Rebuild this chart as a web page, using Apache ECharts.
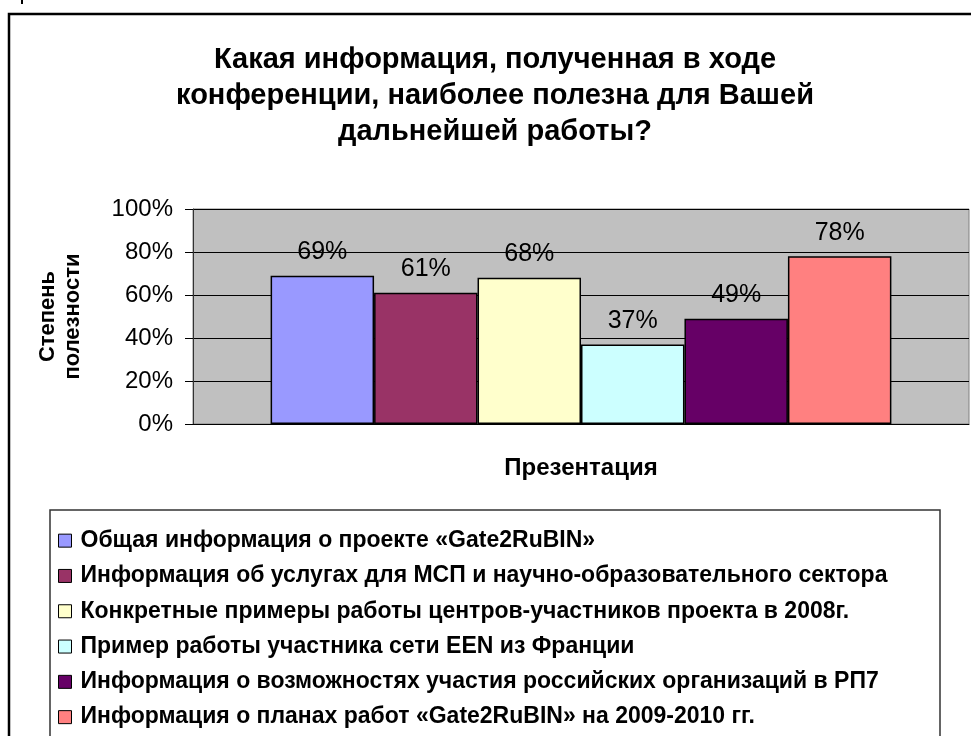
<!DOCTYPE html>
<html>
<head>
<meta charset="utf-8">
<script src="https://cdn.jsdelivr.net/npm/echarts@6/dist/echarts.min.js"></script>
<style>
  html, body { margin: 0; padding: 0; background: #fff; }
  #chart { width: 971px; height: 736px; }
</style>
</head>
<body>
<div id="chart"></div>
<script>
// категория и значения (в процентах)
var categories = ['Презентация'];
var seriesNames = [
  'Общая информация о проекте «Gate2RuBIN»',
  'Информация об услугах для МСП и научно-образовательного сектора',
  'Конкретные примеры работы центров-участников проекта в 2008г.',
  'Пример работы участника сети EEN из Франции',
  'Информация о возможностях участия российских организаций в РП7',
  'Информация о планах работ «Gate2RuBIN» на 2009-2010 гг.'
];
var seriesValues = [69, 61, 68, 37, 49, 78];
var seriesColors = ['#9999FF', '#993366', '#FFFFCC', '#CCFFFF', '#660066', '#FF8080'];

var font = 'Arial, "Liberation Sans", sans-serif';

var series = [];
for (var i = 0; i < seriesNames.length; i++) {
  series.push({
    name: seriesNames[i],
    type: 'bar',
    barGap: '0%',
    barCategoryGap: '20%',
    data: [seriesValues[i]],
    itemStyle: {
      color: seriesColors[i],
      borderColor: '#000',
      borderWidth: 1.5
    },
    label: {
      show: true,
      position: 'top',
      distance: 11,
      formatter: '{c}%',
      color: '#000',
      fontSize: 25,
      fontFamily: font
    }
  });
}

var chartDom = document.getElementById('chart');
var myChart = echarts.init(chartDom);

var option = {
  animation: false,
  backgroundColor: '#fff',
  title: {
    text: 'Какая информация, полученная в ходе\nконференции, наиболее полезна для Вашей\nдальнейшей работы?',
    left: 495,
    top: 42,
    padding: 0,
    textAlign: 'center',
    textStyle: {
      fontSize: 29,
      fontWeight: 'bold',
      fontFamily: font,
      lineHeight: 36,
      color: '#000'
    }
  },
  graphic: [
    // рамка области диаграммы
    { type: 'rect', shape: { x: 9, y: 14, width: 1000, height: 760 },
      style: { fill: 'none', stroke: '#000', lineWidth: 2.5 }, z: 100 },
    { type: 'line', shape: { x1: 22, y1: 0, x2: 22, y2: 4 },
      style: { stroke: '#000', lineWidth: 2 } },
    // рамка легенды
    { type: 'rect', shape: { x: 50, y: 510, width: 890, height: 260 },
      style: { fill: 'none', stroke: '#333', lineWidth: 1.5 }, z: 100 }
  ],
  legend: {
    orient: 'vertical',
    left: 58,
    top: 529,
    padding: 0,
    itemWidth: 13,
    itemHeight: 13,
    itemGap: 12,
    icon: 'rect',
    selectedMode: false,
    itemStyle: { borderColor: '#000', borderWidth: 1 },
    textStyle: {
      fontSize: 23,
      fontWeight: 'bold',
      fontFamily: font,
      color: '#000',
      lineHeight: 23.3,
      padding: [0, 0, 0, 4]
    },
    data: seriesNames
  },
  grid: {
    left: 193,
    top: 209,
    width: 776,
    height: 215,
    show: true,
    backgroundColor: '#C0C0C0',
    borderColor: '#808080',
    borderWidth: 1
  },
  xAxis: {
    type: 'category',
    data: categories,
    name: 'Презентация',
    nameLocation: 'middle',
    nameGap: 32,
    nameTextStyle: { fontSize: 24, fontWeight: 'bold', fontFamily: font, color: '#000' },
    axisLine: { show: true, lineStyle: { color: '#000', width: 1 } },
    axisTick: { show: false },
    axisLabel: { show: false }
  },
  yAxis: {
    type: 'value',
    min: 0,
    max: 100,
    interval: 20,
    name: 'Степень\nполезности',
    nameLocation: 'middle',
    nameRotate: 90,
    nameGap: 108,
    nameTextStyle: { fontSize: 22, fontWeight: 'bold', fontFamily: font, color: '#000', lineHeight: 25 },
    axisLine: { show: true, lineStyle: { color: '#333', width: 1 } },
    axisTick: { show: true, length: 8, lineStyle: { color: '#000' } },
    axisLabel: { formatter: '{value}%', fontSize: 24, fontFamily: font, color: '#000', margin: 20 },
    splitLine: { show: true, lineStyle: { color: '#000', width: 1 } }
  },
  series: series
};

myChart.setOption(option);
</script>
</body>
</html>
